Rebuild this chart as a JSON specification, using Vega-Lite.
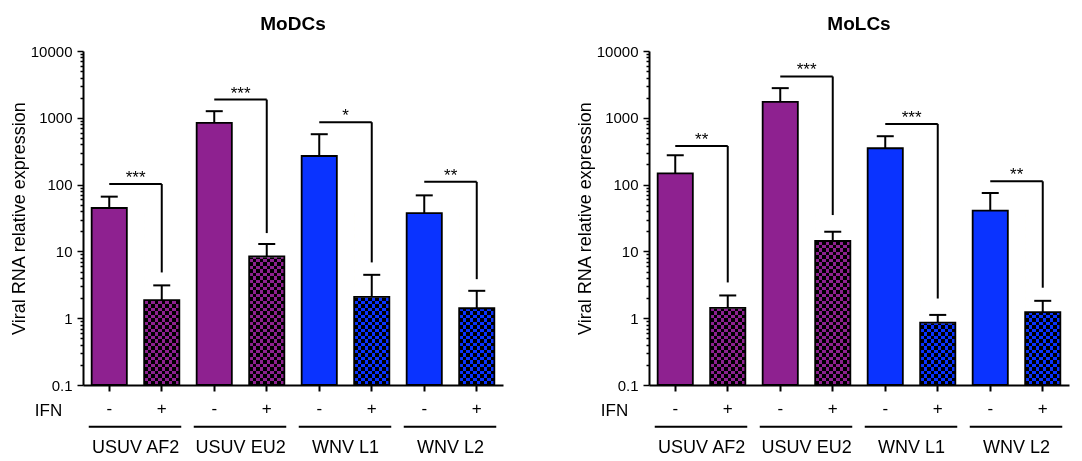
{
"$schema": "https://vega.github.io/schema/vega-lite/v6.json",
"padding": {"left": 10, "top": 15, "right": 5, "bottom": 0},
"config": {"font": "Liberation Sans", "view": {"stroke": null}, "axis": {"grid": false},
 "title": {"fontSize": 19, "fontWeight": "bold", "color": "black", "frame": "group", "anchor": "middle", "offset": 10}},
"datasets": {"d": [
{"kind":"bar","panel":"MoDCs","virus":"USUV","grp":"USUV AF2","ifn":"-","id":"USUV AF2|-","v":44.6,"hi":66},
{"kind":"bar","panel":"MoDCs","virus":"USUV","grp":"USUV AF2","ifn":"+","id":"USUV AF2|+","v":1.86,"hi":3.1},
{"kind":"bar","panel":"MoDCs","virus":"USUV","grp":"USUV EU2","ifn":"-","id":"USUV EU2|-","v":839,"hi":1256},
{"kind":"bar","panel":"MoDCs","virus":"USUV","grp":"USUV EU2","ifn":"+","id":"USUV EU2|+","v":8.4,"hi":12.9},
{"kind":"bar","panel":"MoDCs","virus":"WNV","grp":"WNV L1","ifn":"-","id":"WNV L1|-","v":268,"hi":568},
{"kind":"bar","panel":"MoDCs","virus":"WNV","grp":"WNV L1","ifn":"+","id":"WNV L1|+","v":2.09,"hi":4.46},
{"kind":"bar","panel":"MoDCs","virus":"WNV","grp":"WNV L2","ifn":"-","id":"WNV L2|-","v":37.5,"hi":69},
{"kind":"bar","panel":"MoDCs","virus":"WNV","grp":"WNV L2","ifn":"+","id":"WNV L2|+","v":1.41,"hi":2.57},
{"kind":"bar","panel":"MoLCs","virus":"USUV","grp":"USUV AF2","ifn":"-","id":"USUV AF2|-","v":147.6,"hi":275},
{"kind":"bar","panel":"MoLCs","virus":"USUV","grp":"USUV AF2","ifn":"+","id":"USUV AF2|+","v":1.43,"hi":2.19},
{"kind":"bar","panel":"MoLCs","virus":"USUV","grp":"USUV EU2","ifn":"-","id":"USUV EU2|-","v":1730,"hi":2780},
{"kind":"bar","panel":"MoLCs","virus":"USUV","grp":"USUV EU2","ifn":"+","id":"USUV EU2|+","v":14.3,"hi":19.7},
{"kind":"bar","panel":"MoLCs","virus":"WNV","grp":"WNV L1","ifn":"-","id":"WNV L1|-","v":350,"hi":530},
{"kind":"bar","panel":"MoLCs","virus":"WNV","grp":"WNV L1","ifn":"+","id":"WNV L1|+","v":0.86,"hi":1.12},
{"kind":"bar","panel":"MoLCs","virus":"WNV","grp":"WNV L2","ifn":"-","id":"WNV L2|-","v":40.8,"hi":74.8},
{"kind":"bar","panel":"MoLCs","virus":"WNV","grp":"WNV L2","ifn":"+","id":"WNV L2|+","v":1.23,"hi":1.82},
{"kind":"sig","panel":"MoDCs","grp":"USUV AF2","id":"USUV AF2|-","to":"USUV AF2|+","top":102,"bot":4.84,"stars":"***"},
{"kind":"sig","panel":"MoDCs","grp":"USUV EU2","id":"USUV EU2|-","to":"USUV EU2|+","top":1875,"bot":18.8,"stars":"***"},
{"kind":"sig","panel":"MoDCs","grp":"WNV L1","id":"WNV L1|-","to":"WNV L1|+","top":859,"bot":6.84,"stars":"*"},
{"kind":"sig","panel":"MoDCs","grp":"WNV L2","id":"WNV L2|-","to":"WNV L2|+","top":110,"bot":3.84,"stars":"**"},
{"kind":"sig","panel":"MoLCs","grp":"USUV AF2","id":"USUV AF2|-","to":"USUV AF2|+","top":379,"bot":3.43,"stars":"**"},
{"kind":"sig","panel":"MoLCs","grp":"USUV EU2","id":"USUV EU2|-","to":"USUV EU2|+","top":4160,"bot":35,"stars":"***"},
{"kind":"sig","panel":"MoLCs","grp":"WNV L1","id":"WNV L1|-","to":"WNV L1|+","top":811,"bot":1.97,"stars":"***"},
{"kind":"sig","panel":"MoLCs","grp":"WNV L2","id":"WNV L2|-","to":"WNV L2|+","top":112,"bot":2.86,"stars":"**"}
]},
"spacing": 73,
"hconcat": [
{
"data": {"name": "d"},
"transform": [{"filter": "datum.panel=='MoDCs'"}],
"title": "MoDCs",
"width": 420, "height": 334,
"layer": [
{"transform": [{"filter": "datum.kind=='bar' && datum.ifn=='-'"}],
 "mark": {"type": "bar", "orient": "vertical", "strokeWidth": 0},
 "encoding": {
  "x": {"field": "id", "type": "nominal",
   "scale": {"domain": ["USUV AF2|-","USUV AF2|+","USUV EU2|-","USUV EU2|+","WNV L1|-","WNV L1|+","WNV L2|-","WNV L2|+"], "paddingInner": 0.33, "paddingOuter": 0.165},
   "axis": {"title": "IFN", "titleFontSize": 17, "titleFontWeight": "normal", "titleColor": "black", "titleX": -35, "titleY": 25, "titleAlign": "center", "titleBaseline": "middle",
    "labelExpr": "split(datum.value, '|')[1]", "labelAngle": 0, "labelFontSize": 17, "labelColor": "black", "labelPadding": 9,
    "tickSize": 6, "tickWidth": 2, "tickColor": "black", "domainColor": "black", "domainWidth": 2, "zindex": 1}},
  "y": {"field": "v", "type": "quantitative", "scale": {"type": "log", "domain": [0.1, 10000], "nice": false},
   "axis": {"title": "Viral RNA relative expression", "titleFontSize": 18, "titleFontWeight": "normal", "titleColor": "black", "titlePadding": 2,
    "values": [0.1,0.2,0.3,0.4,0.5,0.6,0.7,0.8,0.9,1,2,3,4,5,6,7,8,9,10,20,30,40,50,60,70,80,90,100,200,300,400,500,600,700,800,900,1000,2000,3000,4000,5000,6000,7000,8000,9000,10000],
    "labelExpr": "abs(log(datum.value)/LN10 - round(log(datum.value)/LN10)) < 0.001 ? format(datum.value, '~g') : ''",
    "labelOverlap": false, "labelFontSize": 15, "labelColor": "black", "labelPadding": 5,
    "tickSize": {"condition": {"test": "abs(log(datum.value)/LN10 - round(log(datum.value)/LN10)) < 0.001", "value": 6}, "value": 3},
    "tickWidth": 1.5, "tickColor": "black", "domainColor": "black", "domainWidth": 2, "zindex": 1}},
  "y2": {"datum": 0.1},
  "color": {"condition": {"test": "datum.virus=='USUV'", "value": "#8e2190"}, "value": "#0a33ff"}
 }},
{"transform": [{"filter": "datum.kind=='bar' && datum.ifn=='+' && datum.virus=='USUV'"}],
 "mark": {"type": "bar", "orient": "vertical", "strokeWidth": 0,
  "color": {"gradient":"linear","x1":0,"y1":0,"x2":1,"y2":0,"stops":[{"offset":0,"color":"#8e2190"},{"offset":0.1,"color":"#8e2190"},{"offset":0.1,"color":"#000"},{"offset":0.2,"color":"#000"},{"offset":0.2,"color":"#8e2190"},{"offset":0.3,"color":"#8e2190"},{"offset":0.3,"color":"#000"},{"offset":0.4,"color":"#000"},{"offset":0.4,"color":"#8e2190"},{"offset":0.5,"color":"#8e2190"},{"offset":0.5,"color":"#000"},{"offset":0.6,"color":"#000"},{"offset":0.6,"color":"#8e2190"},{"offset":0.7,"color":"#8e2190"},{"offset":0.7,"color":"#000"},{"offset":0.8,"color":"#000"},{"offset":0.8,"color":"#8e2190"},{"offset":0.9,"color":"#8e2190"},{"offset":0.9,"color":"#000"},{"offset":1,"color":"#000"}]}},
 "encoding": {"x": {"field": "id", "type": "nominal"}, "y": {"field": "v", "type": "quantitative"}, "y2": {"datum": 0.1}}},
{"transform": [{"filter": "datum.kind=='bar' && datum.ifn=='+' && datum.virus=='WNV'"}],
 "mark": {"type": "bar", "orient": "vertical", "strokeWidth": 0,
  "color": {"gradient":"linear","x1":0,"y1":0,"x2":1,"y2":0,"stops":[{"offset":0,"color":"#0a33ff"},{"offset":0.1,"color":"#0a33ff"},{"offset":0.1,"color":"#000"},{"offset":0.2,"color":"#000"},{"offset":0.2,"color":"#0a33ff"},{"offset":0.3,"color":"#0a33ff"},{"offset":0.3,"color":"#000"},{"offset":0.4,"color":"#000"},{"offset":0.4,"color":"#0a33ff"},{"offset":0.5,"color":"#0a33ff"},{"offset":0.5,"color":"#000"},{"offset":0.6,"color":"#000"},{"offset":0.6,"color":"#0a33ff"},{"offset":0.7,"color":"#0a33ff"},{"offset":0.7,"color":"#000"},{"offset":0.8,"color":"#000"},{"offset":0.8,"color":"#0a33ff"},{"offset":0.9,"color":"#0a33ff"},{"offset":0.9,"color":"#000"},{"offset":1,"color":"#000"}]}},
 "encoding": {"x": {"field": "id", "type": "nominal"}, "y": {"field": "v", "type": "quantitative"}, "y2": {"datum": 0.1}}},
{"transform": [{"filter": "datum.kind=='bar' && datum.ifn=='+' && datum.virus=='USUV'"}],
 "mark": {"type": "bar", "orient": "vertical", "strokeWidth": 0, "blend": "difference",
  "color": {"gradient":"linear","x1":0,"y1":0,"x2":0,"y2":1,"stops":[{"offset":0,"color":"#000"},{"offset":0.02,"color":"#000"},{"offset":0.02,"color":"#8e2190"},{"offset":0.04,"color":"#8e2190"},{"offset":0.04,"color":"#000"},{"offset":0.06,"color":"#000"},{"offset":0.06,"color":"#8e2190"},{"offset":0.08,"color":"#8e2190"},{"offset":0.08,"color":"#000"},{"offset":0.1,"color":"#000"},{"offset":0.1,"color":"#8e2190"},{"offset":0.12,"color":"#8e2190"},{"offset":0.12,"color":"#000"},{"offset":0.14,"color":"#000"},{"offset":0.14,"color":"#8e2190"},{"offset":0.16,"color":"#8e2190"},{"offset":0.16,"color":"#000"},{"offset":0.18,"color":"#000"},{"offset":0.18,"color":"#8e2190"},{"offset":0.2,"color":"#8e2190"},{"offset":0.2,"color":"#000"},{"offset":0.22,"color":"#000"},{"offset":0.22,"color":"#8e2190"},{"offset":0.24,"color":"#8e2190"},{"offset":0.24,"color":"#000"},{"offset":0.26,"color":"#000"},{"offset":0.26,"color":"#8e2190"},{"offset":0.28,"color":"#8e2190"},{"offset":0.28,"color":"#000"},{"offset":0.3,"color":"#000"},{"offset":0.3,"color":"#8e2190"},{"offset":0.32,"color":"#8e2190"},{"offset":0.32,"color":"#000"},{"offset":0.34,"color":"#000"},{"offset":0.34,"color":"#8e2190"},{"offset":0.36,"color":"#8e2190"},{"offset":0.36,"color":"#000"},{"offset":0.38,"color":"#000"},{"offset":0.38,"color":"#8e2190"},{"offset":0.4,"color":"#8e2190"},{"offset":0.4,"color":"#000"},{"offset":0.42,"color":"#000"},{"offset":0.42,"color":"#8e2190"},{"offset":0.44,"color":"#8e2190"},{"offset":0.44,"color":"#000"},{"offset":0.46,"color":"#000"},{"offset":0.46,"color":"#8e2190"},{"offset":0.48,"color":"#8e2190"},{"offset":0.48,"color":"#000"},{"offset":0.5,"color":"#000"},{"offset":0.5,"color":"#8e2190"},{"offset":0.52,"color":"#8e2190"},{"offset":0.52,"color":"#000"},{"offset":0.54,"color":"#000"},{"offset":0.54,"color":"#8e2190"},{"offset":0.56,"color":"#8e2190"},{"offset":0.56,"color":"#000"},{"offset":0.58,"color":"#000"},{"offset":0.58,"color":"#8e2190"},{"offset":0.6,"color":"#8e2190"},{"offset":0.6,"color":"#000"},{"offset":0.62,"color":"#000"},{"offset":0.62,"color":"#8e2190"},{"offset":0.64,"color":"#8e2190"},{"offset":0.64,"color":"#000"},{"offset":0.66,"color":"#000"},{"offset":0.66,"color":"#8e2190"},{"offset":0.68,"color":"#8e2190"},{"offset":0.68,"color":"#000"},{"offset":0.7,"color":"#000"},{"offset":0.7,"color":"#8e2190"},{"offset":0.72,"color":"#8e2190"},{"offset":0.72,"color":"#000"},{"offset":0.74,"color":"#000"},{"offset":0.74,"color":"#8e2190"},{"offset":0.76,"color":"#8e2190"},{"offset":0.76,"color":"#000"},{"offset":0.78,"color":"#000"},{"offset":0.78,"color":"#8e2190"},{"offset":0.8,"color":"#8e2190"},{"offset":0.8,"color":"#000"},{"offset":0.82,"color":"#000"},{"offset":0.82,"color":"#8e2190"},{"offset":0.84,"color":"#8e2190"},{"offset":0.84,"color":"#000"},{"offset":0.86,"color":"#000"},{"offset":0.86,"color":"#8e2190"},{"offset":0.88,"color":"#8e2190"},{"offset":0.88,"color":"#000"},{"offset":0.9,"color":"#000"},{"offset":0.9,"color":"#8e2190"},{"offset":0.92,"color":"#8e2190"},{"offset":0.92,"color":"#000"},{"offset":0.94,"color":"#000"},{"offset":0.94,"color":"#8e2190"},{"offset":0.96,"color":"#8e2190"},{"offset":0.96,"color":"#000"},{"offset":0.98,"color":"#000"},{"offset":0.98,"color":"#8e2190"},{"offset":1,"color":"#8e2190"}]}},
 "encoding": {"x": {"field": "id", "type": "nominal"}, "y": {"datum": 42.17, "type": "quantitative"}}},
{"transform": [{"filter": "datum.kind=='bar' && datum.ifn=='+' && datum.virus=='WNV'"}],
 "mark": {"type": "bar", "orient": "vertical", "strokeWidth": 0, "blend": "difference",
  "color": {"gradient":"linear","x1":0,"y1":0,"x2":0,"y2":1,"stops":[{"offset":0,"color":"#000"},{"offset":0.02,"color":"#000"},{"offset":0.02,"color":"#0a33ff"},{"offset":0.04,"color":"#0a33ff"},{"offset":0.04,"color":"#000"},{"offset":0.06,"color":"#000"},{"offset":0.06,"color":"#0a33ff"},{"offset":0.08,"color":"#0a33ff"},{"offset":0.08,"color":"#000"},{"offset":0.1,"color":"#000"},{"offset":0.1,"color":"#0a33ff"},{"offset":0.12,"color":"#0a33ff"},{"offset":0.12,"color":"#000"},{"offset":0.14,"color":"#000"},{"offset":0.14,"color":"#0a33ff"},{"offset":0.16,"color":"#0a33ff"},{"offset":0.16,"color":"#000"},{"offset":0.18,"color":"#000"},{"offset":0.18,"color":"#0a33ff"},{"offset":0.2,"color":"#0a33ff"},{"offset":0.2,"color":"#000"},{"offset":0.22,"color":"#000"},{"offset":0.22,"color":"#0a33ff"},{"offset":0.24,"color":"#0a33ff"},{"offset":0.24,"color":"#000"},{"offset":0.26,"color":"#000"},{"offset":0.26,"color":"#0a33ff"},{"offset":0.28,"color":"#0a33ff"},{"offset":0.28,"color":"#000"},{"offset":0.3,"color":"#000"},{"offset":0.3,"color":"#0a33ff"},{"offset":0.32,"color":"#0a33ff"},{"offset":0.32,"color":"#000"},{"offset":0.34,"color":"#000"},{"offset":0.34,"color":"#0a33ff"},{"offset":0.36,"color":"#0a33ff"},{"offset":0.36,"color":"#000"},{"offset":0.38,"color":"#000"},{"offset":0.38,"color":"#0a33ff"},{"offset":0.4,"color":"#0a33ff"},{"offset":0.4,"color":"#000"},{"offset":0.42,"color":"#000"},{"offset":0.42,"color":"#0a33ff"},{"offset":0.44,"color":"#0a33ff"},{"offset":0.44,"color":"#000"},{"offset":0.46,"color":"#000"},{"offset":0.46,"color":"#0a33ff"},{"offset":0.48,"color":"#0a33ff"},{"offset":0.48,"color":"#000"},{"offset":0.5,"color":"#000"},{"offset":0.5,"color":"#0a33ff"},{"offset":0.52,"color":"#0a33ff"},{"offset":0.52,"color":"#000"},{"offset":0.54,"color":"#000"},{"offset":0.54,"color":"#0a33ff"},{"offset":0.56,"color":"#0a33ff"},{"offset":0.56,"color":"#000"},{"offset":0.58,"color":"#000"},{"offset":0.58,"color":"#0a33ff"},{"offset":0.6,"color":"#0a33ff"},{"offset":0.6,"color":"#000"},{"offset":0.62,"color":"#000"},{"offset":0.62,"color":"#0a33ff"},{"offset":0.64,"color":"#0a33ff"},{"offset":0.64,"color":"#000"},{"offset":0.66,"color":"#000"},{"offset":0.66,"color":"#0a33ff"},{"offset":0.68,"color":"#0a33ff"},{"offset":0.68,"color":"#000"},{"offset":0.7,"color":"#000"},{"offset":0.7,"color":"#0a33ff"},{"offset":0.72,"color":"#0a33ff"},{"offset":0.72,"color":"#000"},{"offset":0.74,"color":"#000"},{"offset":0.74,"color":"#0a33ff"},{"offset":0.76,"color":"#0a33ff"},{"offset":0.76,"color":"#000"},{"offset":0.78,"color":"#000"},{"offset":0.78,"color":"#0a33ff"},{"offset":0.8,"color":"#0a33ff"},{"offset":0.8,"color":"#000"},{"offset":0.82,"color":"#000"},{"offset":0.82,"color":"#0a33ff"},{"offset":0.84,"color":"#0a33ff"},{"offset":0.84,"color":"#000"},{"offset":0.86,"color":"#000"},{"offset":0.86,"color":"#0a33ff"},{"offset":0.88,"color":"#0a33ff"},{"offset":0.88,"color":"#000"},{"offset":0.9,"color":"#000"},{"offset":0.9,"color":"#0a33ff"},{"offset":0.92,"color":"#0a33ff"},{"offset":0.92,"color":"#000"},{"offset":0.94,"color":"#000"},{"offset":0.94,"color":"#0a33ff"},{"offset":0.96,"color":"#0a33ff"},{"offset":0.96,"color":"#000"},{"offset":0.98,"color":"#000"},{"offset":0.98,"color":"#0a33ff"},{"offset":1,"color":"#0a33ff"}]}},
 "encoding": {"x": {"field": "id", "type": "nominal"}, "y": {"datum": 42.17, "type": "quantitative"}}},
{"transform": [{"filter": "datum.kind=='bar' && datum.ifn=='+'"}],
 "mark": {"type": "bar", "orient": "vertical", "fill": "white", "stroke": "white", "strokeWidth": 1.5},
 "encoding": {"x": {"field": "id", "type": "nominal"}, "y": {"field": "v", "type": "quantitative"}, "y2": {"datum": 42.17}}},
{"transform": [{"filter": "datum.kind=='bar'"}],
 "mark": {"type": "bar", "orient": "vertical", "filled": false, "color": "black", "strokeWidth": 1.8},
 "encoding": {"x": {"field": "id", "type": "nominal"}, "y": {"field": "v", "type": "quantitative"}, "y2": {"datum": 0.1}}},
{"transform": [{"filter": "datum.kind=='bar'"}],
 "mark": {"type": "rule", "color": "black", "strokeWidth": 2},
 "encoding": {"x": {"field": "id", "type": "nominal"}, "y": {"field": "v", "type": "quantitative"}, "y2": {"field": "hi"}}},
{"transform": [{"filter": "datum.kind=='bar'"}],
 "mark": {"type": "rule", "color": "black", "strokeWidth": 2, "xOffset": -8.5, "x2Offset": 8.5},
 "encoding": {"x": {"field": "id", "type": "nominal"}, "x2": {"field": "id"}, "y": {"field": "hi", "type": "quantitative"}}},
{"transform": [{"filter": "datum.kind=='sig'"}],
 "mark": {"type": "rule", "color": "black", "strokeWidth": 2},
 "encoding": {"x": {"field": "id", "type": "nominal"}, "x2": {"field": "to"}, "y": {"field": "top", "type": "quantitative"}}},
{"transform": [{"filter": "datum.kind=='sig'"}],
 "mark": {"type": "rule", "color": "black", "strokeWidth": 2},
 "encoding": {"x": {"field": "to", "type": "nominal"}, "y": {"field": "top", "type": "quantitative"}, "y2": {"field": "bot"}}},
{"transform": [{"filter": "datum.kind=='sig'"}],
 "mark": {"type": "text", "color": "black", "fontSize": 17, "baseline": "alphabetic", "dy": -1},
 "encoding": {"x": {"field": "id", "type": "nominal", "bandPosition": 1.25}, "y": {"field": "top", "type": "quantitative"}, "text": {"field": "stars"}}},
{"transform": [{"filter": "datum.kind=='sig'"}],
 "mark": {"type": "rule", "color": "black", "strokeWidth": 2, "xOffset": -20.5, "x2Offset": 19.5},
 "encoding": {"x": {"field": "id", "type": "nominal"}, "x2": {"field": "to"}, "y": {"datum": 0.0238, "type": "quantitative"}}},
{"transform": [{"filter": "datum.kind=='sig'"}],
 "mark": {"type": "text", "color": "black", "fontSize": 18, "baseline": "middle"},
 "encoding": {"x": {"field": "id", "type": "nominal", "bandPosition": 1.25}, "y": {"datum": 0.0114, "type": "quantitative"}, "text": {"field": "grp"}}}
]
},
{
"data": {"name": "d"},
"transform": [{"filter": "datum.panel=='MoLCs'"}],
"title": "MoLCs",
"width": 420, "height": 334,
"layer": [
{"transform": [{"filter": "datum.kind=='bar' && datum.ifn=='-'"}],
 "mark": {"type": "bar", "orient": "vertical", "strokeWidth": 0},
 "encoding": {
  "x": {"field": "id", "type": "nominal",
   "scale": {"domain": ["USUV AF2|-","USUV AF2|+","USUV EU2|-","USUV EU2|+","WNV L1|-","WNV L1|+","WNV L2|-","WNV L2|+"], "paddingInner": 0.33, "paddingOuter": 0.165},
   "axis": {"title": "IFN", "titleFontSize": 17, "titleFontWeight": "normal", "titleColor": "black", "titleX": -35, "titleY": 25, "titleAlign": "center", "titleBaseline": "middle",
    "labelExpr": "split(datum.value, '|')[1]", "labelAngle": 0, "labelFontSize": 17, "labelColor": "black", "labelPadding": 9,
    "tickSize": 6, "tickWidth": 2, "tickColor": "black", "domainColor": "black", "domainWidth": 2, "zindex": 1}},
  "y": {"field": "v", "type": "quantitative", "scale": {"type": "log", "domain": [0.1, 10000], "nice": false},
   "axis": {"title": "Viral RNA relative expression", "titleFontSize": 18, "titleFontWeight": "normal", "titleColor": "black", "titlePadding": 2,
    "values": [0.1,0.2,0.3,0.4,0.5,0.6,0.7,0.8,0.9,1,2,3,4,5,6,7,8,9,10,20,30,40,50,60,70,80,90,100,200,300,400,500,600,700,800,900,1000,2000,3000,4000,5000,6000,7000,8000,9000,10000],
    "labelExpr": "abs(log(datum.value)/LN10 - round(log(datum.value)/LN10)) < 0.001 ? format(datum.value, '~g') : ''",
    "labelOverlap": false, "labelFontSize": 15, "labelColor": "black", "labelPadding": 5,
    "tickSize": {"condition": {"test": "abs(log(datum.value)/LN10 - round(log(datum.value)/LN10)) < 0.001", "value": 6}, "value": 3},
    "tickWidth": 1.5, "tickColor": "black", "domainColor": "black", "domainWidth": 2, "zindex": 1}},
  "y2": {"datum": 0.1},
  "color": {"condition": {"test": "datum.virus=='USUV'", "value": "#8e2190"}, "value": "#0a33ff"}
 }},
{"transform": [{"filter": "datum.kind=='bar' && datum.ifn=='+' && datum.virus=='USUV'"}],
 "mark": {"type": "bar", "orient": "vertical", "strokeWidth": 0,
  "color": {"gradient":"linear","x1":0,"y1":0,"x2":1,"y2":0,"stops":[{"offset":0,"color":"#8e2190"},{"offset":0.1,"color":"#8e2190"},{"offset":0.1,"color":"#000"},{"offset":0.2,"color":"#000"},{"offset":0.2,"color":"#8e2190"},{"offset":0.3,"color":"#8e2190"},{"offset":0.3,"color":"#000"},{"offset":0.4,"color":"#000"},{"offset":0.4,"color":"#8e2190"},{"offset":0.5,"color":"#8e2190"},{"offset":0.5,"color":"#000"},{"offset":0.6,"color":"#000"},{"offset":0.6,"color":"#8e2190"},{"offset":0.7,"color":"#8e2190"},{"offset":0.7,"color":"#000"},{"offset":0.8,"color":"#000"},{"offset":0.8,"color":"#8e2190"},{"offset":0.9,"color":"#8e2190"},{"offset":0.9,"color":"#000"},{"offset":1,"color":"#000"}]}},
 "encoding": {"x": {"field": "id", "type": "nominal"}, "y": {"field": "v", "type": "quantitative"}, "y2": {"datum": 0.1}}},
{"transform": [{"filter": "datum.kind=='bar' && datum.ifn=='+' && datum.virus=='WNV'"}],
 "mark": {"type": "bar", "orient": "vertical", "strokeWidth": 0,
  "color": {"gradient":"linear","x1":0,"y1":0,"x2":1,"y2":0,"stops":[{"offset":0,"color":"#0a33ff"},{"offset":0.1,"color":"#0a33ff"},{"offset":0.1,"color":"#000"},{"offset":0.2,"color":"#000"},{"offset":0.2,"color":"#0a33ff"},{"offset":0.3,"color":"#0a33ff"},{"offset":0.3,"color":"#000"},{"offset":0.4,"color":"#000"},{"offset":0.4,"color":"#0a33ff"},{"offset":0.5,"color":"#0a33ff"},{"offset":0.5,"color":"#000"},{"offset":0.6,"color":"#000"},{"offset":0.6,"color":"#0a33ff"},{"offset":0.7,"color":"#0a33ff"},{"offset":0.7,"color":"#000"},{"offset":0.8,"color":"#000"},{"offset":0.8,"color":"#0a33ff"},{"offset":0.9,"color":"#0a33ff"},{"offset":0.9,"color":"#000"},{"offset":1,"color":"#000"}]}},
 "encoding": {"x": {"field": "id", "type": "nominal"}, "y": {"field": "v", "type": "quantitative"}, "y2": {"datum": 0.1}}},
{"transform": [{"filter": "datum.kind=='bar' && datum.ifn=='+' && datum.virus=='USUV'"}],
 "mark": {"type": "bar", "orient": "vertical", "strokeWidth": 0, "blend": "difference",
  "color": {"gradient":"linear","x1":0,"y1":0,"x2":0,"y2":1,"stops":[{"offset":0,"color":"#000"},{"offset":0.02,"color":"#000"},{"offset":0.02,"color":"#8e2190"},{"offset":0.04,"color":"#8e2190"},{"offset":0.04,"color":"#000"},{"offset":0.06,"color":"#000"},{"offset":0.06,"color":"#8e2190"},{"offset":0.08,"color":"#8e2190"},{"offset":0.08,"color":"#000"},{"offset":0.1,"color":"#000"},{"offset":0.1,"color":"#8e2190"},{"offset":0.12,"color":"#8e2190"},{"offset":0.12,"color":"#000"},{"offset":0.14,"color":"#000"},{"offset":0.14,"color":"#8e2190"},{"offset":0.16,"color":"#8e2190"},{"offset":0.16,"color":"#000"},{"offset":0.18,"color":"#000"},{"offset":0.18,"color":"#8e2190"},{"offset":0.2,"color":"#8e2190"},{"offset":0.2,"color":"#000"},{"offset":0.22,"color":"#000"},{"offset":0.22,"color":"#8e2190"},{"offset":0.24,"color":"#8e2190"},{"offset":0.24,"color":"#000"},{"offset":0.26,"color":"#000"},{"offset":0.26,"color":"#8e2190"},{"offset":0.28,"color":"#8e2190"},{"offset":0.28,"color":"#000"},{"offset":0.3,"color":"#000"},{"offset":0.3,"color":"#8e2190"},{"offset":0.32,"color":"#8e2190"},{"offset":0.32,"color":"#000"},{"offset":0.34,"color":"#000"},{"offset":0.34,"color":"#8e2190"},{"offset":0.36,"color":"#8e2190"},{"offset":0.36,"color":"#000"},{"offset":0.38,"color":"#000"},{"offset":0.38,"color":"#8e2190"},{"offset":0.4,"color":"#8e2190"},{"offset":0.4,"color":"#000"},{"offset":0.42,"color":"#000"},{"offset":0.42,"color":"#8e2190"},{"offset":0.44,"color":"#8e2190"},{"offset":0.44,"color":"#000"},{"offset":0.46,"color":"#000"},{"offset":0.46,"color":"#8e2190"},{"offset":0.48,"color":"#8e2190"},{"offset":0.48,"color":"#000"},{"offset":0.5,"color":"#000"},{"offset":0.5,"color":"#8e2190"},{"offset":0.52,"color":"#8e2190"},{"offset":0.52,"color":"#000"},{"offset":0.54,"color":"#000"},{"offset":0.54,"color":"#8e2190"},{"offset":0.56,"color":"#8e2190"},{"offset":0.56,"color":"#000"},{"offset":0.58,"color":"#000"},{"offset":0.58,"color":"#8e2190"},{"offset":0.6,"color":"#8e2190"},{"offset":0.6,"color":"#000"},{"offset":0.62,"color":"#000"},{"offset":0.62,"color":"#8e2190"},{"offset":0.64,"color":"#8e2190"},{"offset":0.64,"color":"#000"},{"offset":0.66,"color":"#000"},{"offset":0.66,"color":"#8e2190"},{"offset":0.68,"color":"#8e2190"},{"offset":0.68,"color":"#000"},{"offset":0.7,"color":"#000"},{"offset":0.7,"color":"#8e2190"},{"offset":0.72,"color":"#8e2190"},{"offset":0.72,"color":"#000"},{"offset":0.74,"color":"#000"},{"offset":0.74,"color":"#8e2190"},{"offset":0.76,"color":"#8e2190"},{"offset":0.76,"color":"#000"},{"offset":0.78,"color":"#000"},{"offset":0.78,"color":"#8e2190"},{"offset":0.8,"color":"#8e2190"},{"offset":0.8,"color":"#000"},{"offset":0.82,"color":"#000"},{"offset":0.82,"color":"#8e2190"},{"offset":0.84,"color":"#8e2190"},{"offset":0.84,"color":"#000"},{"offset":0.86,"color":"#000"},{"offset":0.86,"color":"#8e2190"},{"offset":0.88,"color":"#8e2190"},{"offset":0.88,"color":"#000"},{"offset":0.9,"color":"#000"},{"offset":0.9,"color":"#8e2190"},{"offset":0.92,"color":"#8e2190"},{"offset":0.92,"color":"#000"},{"offset":0.94,"color":"#000"},{"offset":0.94,"color":"#8e2190"},{"offset":0.96,"color":"#8e2190"},{"offset":0.96,"color":"#000"},{"offset":0.98,"color":"#000"},{"offset":0.98,"color":"#8e2190"},{"offset":1,"color":"#8e2190"}]}},
 "encoding": {"x": {"field": "id", "type": "nominal"}, "y": {"datum": 42.17, "type": "quantitative"}}},
{"transform": [{"filter": "datum.kind=='bar' && datum.ifn=='+' && datum.virus=='WNV'"}],
 "mark": {"type": "bar", "orient": "vertical", "strokeWidth": 0, "blend": "difference",
  "color": {"gradient":"linear","x1":0,"y1":0,"x2":0,"y2":1,"stops":[{"offset":0,"color":"#000"},{"offset":0.02,"color":"#000"},{"offset":0.02,"color":"#0a33ff"},{"offset":0.04,"color":"#0a33ff"},{"offset":0.04,"color":"#000"},{"offset":0.06,"color":"#000"},{"offset":0.06,"color":"#0a33ff"},{"offset":0.08,"color":"#0a33ff"},{"offset":0.08,"color":"#000"},{"offset":0.1,"color":"#000"},{"offset":0.1,"color":"#0a33ff"},{"offset":0.12,"color":"#0a33ff"},{"offset":0.12,"color":"#000"},{"offset":0.14,"color":"#000"},{"offset":0.14,"color":"#0a33ff"},{"offset":0.16,"color":"#0a33ff"},{"offset":0.16,"color":"#000"},{"offset":0.18,"color":"#000"},{"offset":0.18,"color":"#0a33ff"},{"offset":0.2,"color":"#0a33ff"},{"offset":0.2,"color":"#000"},{"offset":0.22,"color":"#000"},{"offset":0.22,"color":"#0a33ff"},{"offset":0.24,"color":"#0a33ff"},{"offset":0.24,"color":"#000"},{"offset":0.26,"color":"#000"},{"offset":0.26,"color":"#0a33ff"},{"offset":0.28,"color":"#0a33ff"},{"offset":0.28,"color":"#000"},{"offset":0.3,"color":"#000"},{"offset":0.3,"color":"#0a33ff"},{"offset":0.32,"color":"#0a33ff"},{"offset":0.32,"color":"#000"},{"offset":0.34,"color":"#000"},{"offset":0.34,"color":"#0a33ff"},{"offset":0.36,"color":"#0a33ff"},{"offset":0.36,"color":"#000"},{"offset":0.38,"color":"#000"},{"offset":0.38,"color":"#0a33ff"},{"offset":0.4,"color":"#0a33ff"},{"offset":0.4,"color":"#000"},{"offset":0.42,"color":"#000"},{"offset":0.42,"color":"#0a33ff"},{"offset":0.44,"color":"#0a33ff"},{"offset":0.44,"color":"#000"},{"offset":0.46,"color":"#000"},{"offset":0.46,"color":"#0a33ff"},{"offset":0.48,"color":"#0a33ff"},{"offset":0.48,"color":"#000"},{"offset":0.5,"color":"#000"},{"offset":0.5,"color":"#0a33ff"},{"offset":0.52,"color":"#0a33ff"},{"offset":0.52,"color":"#000"},{"offset":0.54,"color":"#000"},{"offset":0.54,"color":"#0a33ff"},{"offset":0.56,"color":"#0a33ff"},{"offset":0.56,"color":"#000"},{"offset":0.58,"color":"#000"},{"offset":0.58,"color":"#0a33ff"},{"offset":0.6,"color":"#0a33ff"},{"offset":0.6,"color":"#000"},{"offset":0.62,"color":"#000"},{"offset":0.62,"color":"#0a33ff"},{"offset":0.64,"color":"#0a33ff"},{"offset":0.64,"color":"#000"},{"offset":0.66,"color":"#000"},{"offset":0.66,"color":"#0a33ff"},{"offset":0.68,"color":"#0a33ff"},{"offset":0.68,"color":"#000"},{"offset":0.7,"color":"#000"},{"offset":0.7,"color":"#0a33ff"},{"offset":0.72,"color":"#0a33ff"},{"offset":0.72,"color":"#000"},{"offset":0.74,"color":"#000"},{"offset":0.74,"color":"#0a33ff"},{"offset":0.76,"color":"#0a33ff"},{"offset":0.76,"color":"#000"},{"offset":0.78,"color":"#000"},{"offset":0.78,"color":"#0a33ff"},{"offset":0.8,"color":"#0a33ff"},{"offset":0.8,"color":"#000"},{"offset":0.82,"color":"#000"},{"offset":0.82,"color":"#0a33ff"},{"offset":0.84,"color":"#0a33ff"},{"offset":0.84,"color":"#000"},{"offset":0.86,"color":"#000"},{"offset":0.86,"color":"#0a33ff"},{"offset":0.88,"color":"#0a33ff"},{"offset":0.88,"color":"#000"},{"offset":0.9,"color":"#000"},{"offset":0.9,"color":"#0a33ff"},{"offset":0.92,"color":"#0a33ff"},{"offset":0.92,"color":"#000"},{"offset":0.94,"color":"#000"},{"offset":0.94,"color":"#0a33ff"},{"offset":0.96,"color":"#0a33ff"},{"offset":0.96,"color":"#000"},{"offset":0.98,"color":"#000"},{"offset":0.98,"color":"#0a33ff"},{"offset":1,"color":"#0a33ff"}]}},
 "encoding": {"x": {"field": "id", "type": "nominal"}, "y": {"datum": 42.17, "type": "quantitative"}}},
{"transform": [{"filter": "datum.kind=='bar' && datum.ifn=='+'"}],
 "mark": {"type": "bar", "orient": "vertical", "fill": "white", "stroke": "white", "strokeWidth": 1.5},
 "encoding": {"x": {"field": "id", "type": "nominal"}, "y": {"field": "v", "type": "quantitative"}, "y2": {"datum": 42.17}}},
{"transform": [{"filter": "datum.kind=='bar'"}],
 "mark": {"type": "bar", "orient": "vertical", "filled": false, "color": "black", "strokeWidth": 1.8},
 "encoding": {"x": {"field": "id", "type": "nominal"}, "y": {"field": "v", "type": "quantitative"}, "y2": {"datum": 0.1}}},
{"transform": [{"filter": "datum.kind=='bar'"}],
 "mark": {"type": "rule", "color": "black", "strokeWidth": 2},
 "encoding": {"x": {"field": "id", "type": "nominal"}, "y": {"field": "v", "type": "quantitative"}, "y2": {"field": "hi"}}},
{"transform": [{"filter": "datum.kind=='bar'"}],
 "mark": {"type": "rule", "color": "black", "strokeWidth": 2, "xOffset": -8.5, "x2Offset": 8.5},
 "encoding": {"x": {"field": "id", "type": "nominal"}, "x2": {"field": "id"}, "y": {"field": "hi", "type": "quantitative"}}},
{"transform": [{"filter": "datum.kind=='sig'"}],
 "mark": {"type": "rule", "color": "black", "strokeWidth": 2},
 "encoding": {"x": {"field": "id", "type": "nominal"}, "x2": {"field": "to"}, "y": {"field": "top", "type": "quantitative"}}},
{"transform": [{"filter": "datum.kind=='sig'"}],
 "mark": {"type": "rule", "color": "black", "strokeWidth": 2},
 "encoding": {"x": {"field": "to", "type": "nominal"}, "y": {"field": "top", "type": "quantitative"}, "y2": {"field": "bot"}}},
{"transform": [{"filter": "datum.kind=='sig'"}],
 "mark": {"type": "text", "color": "black", "fontSize": 17, "baseline": "alphabetic", "dy": -1},
 "encoding": {"x": {"field": "id", "type": "nominal", "bandPosition": 1.25}, "y": {"field": "top", "type": "quantitative"}, "text": {"field": "stars"}}},
{"transform": [{"filter": "datum.kind=='sig'"}],
 "mark": {"type": "rule", "color": "black", "strokeWidth": 2, "xOffset": -20.5, "x2Offset": 19.5},
 "encoding": {"x": {"field": "id", "type": "nominal"}, "x2": {"field": "to"}, "y": {"datum": 0.0238, "type": "quantitative"}}},
{"transform": [{"filter": "datum.kind=='sig'"}],
 "mark": {"type": "text", "color": "black", "fontSize": 18, "baseline": "middle"},
 "encoding": {"x": {"field": "id", "type": "nominal", "bandPosition": 1.25}, "y": {"datum": 0.0114, "type": "quantitative"}, "text": {"field": "grp"}}}
]
}
]
}
